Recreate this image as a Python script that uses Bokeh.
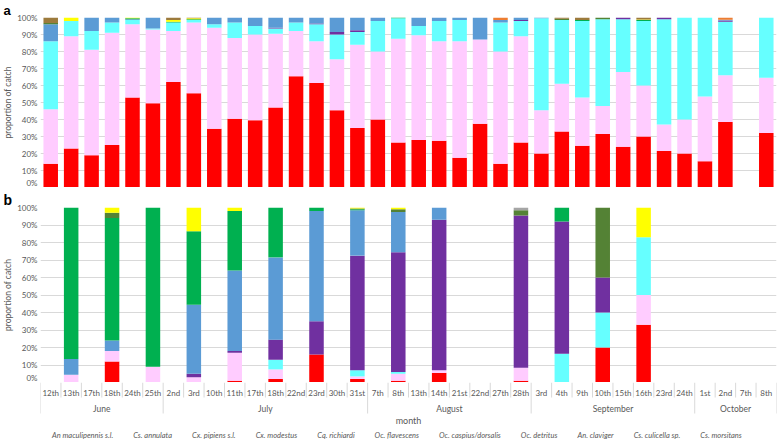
import numpy as np
from bokeh.plotting import figure
from bokeh.models import (ColumnDataSource, Range1d, PrintfTickFormatter, FixedTicker,
                          Legend, LegendItem)
from bokeh.layouts import column
from bokeh.embed import file_html
from bokeh.resources import INLINE
from bokeh.core.properties import value

# ---------------- data ----------------
months = ["June", "July", "August", "September", "October"]
month_counts = [6, 10, 8, 8, 4]
days = ["12th", "13th", "17th", "18th", "24th", "25th",
        "2nd", "3rd", "10th", "11th", "17th", "18th", "22nd", "23rd", "30th", "31st",
        "7th", "8th", "13th", "14th", "21st", "22nd", "27th", "28th",
        "3rd", "4th", "9th", "10th", "15th", "16th", "23rd", "24th",
        "1st", "2nd", "7th", "8th"]

species = ["An maculipennis s.l.", "Cs. annulata", "Cx. pipiens s.l.", "Cx. modestus",
           "Cq. richiardi", "Oc. flavescens", "Oc. caspius/dorsalis", "Oc. detritus",
           "An. claviger", "Cs. culicella sp.", "Cs. morsitans"]
colors = ["#FF0000", "#FFCCFF", "#66FFFF", "#7030A0", "#5B9BD5", "#00B050",
          "#548235", "#FFFF00", "#A5A5A5", "#9C7A3C", "#ED7D31"]

# panel a (percent of catch)
a_macu = [14, 23, 19, 25, 53, 49.5,
          62, 55.5, 34.5, 40.5, 39.5, 47, 65.5, 61.5, 45.5, 35,
          40, 26.5, 28, 27.5, 17.5, 37.5, 14, 26.5,
          20, 33, 24.5, 31.5, 24, 30, 21.5, 20,
          15.5, 38.5, 0, 32]
a_annu = [32, 66, 62, 66, 43, 43.5,
          30, 41.5, 59.5, 47.5, 50.5, 43.5, 26.5, 24.5, 30, 49,
          40, 61, 61.5, 58.5, 68.5, 49.5, 66, 62.5,
          25.5, 28, 28.5, 16.5, 44, 30, 15.5, 20,
          38, 27.5, 0, 32.5]
a_pipi = [40, 9, 11, 6, 2.5, 0.5,
          5, 1.5, 2, 9, 5, 3, 5, 10, 14.5, 7.5,
          18, 12, 5.5, 12, 12.5, 0, 17, 9,
          54, 37.5, 45, 51, 31, 38, 62, 60,
          46.5, 31.5, 0, 35.5]
a_mode = [0, 0, 0, 0, 0, 0,
          0, 0, 0, 0, 0, 0.5, 0, 0.5, 1.5, 1,
          0, 0, 0, 0, 0, 0, 0, 0.5,
          0, 0, 0, 0, 1, 0, 1, 0,
          0, 0.8, 0, 0]
a_rich = [10, 0, 8, 3, 0.5, 6.5,
          0, 0, 4, 3, 5, 6, 3, 3.5, 8.5, 7.5,
          2, 0, 5, 2, 1.5, 13, 1.5, 1.5,
          0.5, 0, 0, 0, 0, 0, 0, 0,
          0, 0.4, 0, 0]
a_flav = [0, 0, 0, 0, 0.5, 0,
          0.5, 0.5, 0, 0, 0, 0, 0, 0, 0, 0,
          0, 0.5, 0, 0, 0, 0, 0, 0,
          0, 0, 0.5, 0, 0, 0.5, 0, 0,
          0, 0, 0, 0]
a_casp = [0.7, 0, 0, 0, 0, 0,
          0, 0, 0, 0, 0, 0, 0, 0, 0, 0,
          0, 0, 0, 0, 0, 0, 0, 0,
          0, 0.7, 0, 1, 0, 0, 0, 0,
          0, 0, 0, 0]
a_detr = [0, 2, 0, 0, 0.5, 0,
          1, 0.5, 0, 0, 0, 0, 0, 0, 0, 0,
          0, 0, 0, 0, 0, 0, 0, 0,
          0, 0, 0, 0, 0, 0.3, 0, 0,
          0, 0, 0, 0]
a_clav = [0, 0, 0, 0, 0, 0,
          0, 0, 0, 0, 0, 0, 0, 0, 0, 0,
          0, 0, 0, 0, 0, 0, 0, 0,
          0, 0, 0, 0, 0, 0, 0, 0,
          0, 0, 0, 0]
a_culi = [3.3, 0, 0, 0, 0, 0,
          1.5, 0.5, 0, 0, 0, 0, 0, 0, 0, 0,
          0, 0, 0, 0, 0, 0, 0, 0,
          0, 0.8, 1.5, 0, 0, 1.2, 0, 0,
          0, 0, 0, 0]
a_mors = [0, 0, 0, 0, 0, 0,
          0, 0, 0, 0, 0, 0, 0, 0, 0, 0,
          0, 0, 0, 0, 0, 0, 1.5, 0,
          0, 0, 0, 0, 0, 0, 0, 0,
          0, 1.3, 0, 0]

# panel b (percent of catch)
b_macu = [0, 0, 0, 12, 0, 0,
          0, 0, 0, 1, 0, 2, 0, 16, 0, 2,
          0, 1, 0, 5.5, 0, 0, 0, 1,
          0, 0, 0, 20, 0, 33, 0, 0,
          0, 0, 0, 0]
b_annu = [0, 4.5, 0, 6, 0, 9,
          0, 3, 0, 16, 0, 5.5, 0, 0, 0, 1.5,
          0, 4, 0, 1.5, 0, 0, 0, 7.5,
          0, 0, 0, 0, 0, 17, 0, 0,
          0, 0, 0, 0]
b_pipi = [0, 0, 0, 0, 0, 0,
          0, 0, 0, 0, 0, 5.5, 0, 0, 0, 3.5,
          0, 1, 0, 0, 0, 0, 0, 0,
          0, 16.5, 0, 20, 0, 33, 0, 0,
          0, 0, 0, 0]
b_mode = [0, 0, 0, 0, 0, 0,
          0, 2, 0, 1, 0, 11.5, 0, 19, 0, 65.5,
          0, 68.5, 0, 86, 0, 0, 0, 87,
          0, 75.5, 0, 20, 0, 0, 0, 0,
          0, 0, 0, 0]
b_rich = [0, 9, 0, 6, 0, 0,
          0, 39.5, 0, 46, 0, 47, 0, 63, 0, 26,
          0, 23, 0, 7, 0, 0, 0, 0,
          0, 0, 0, 0, 0, 0, 0, 0,
          0, 0, 0, 0]
b_flav = [0, 86.5, 0, 70, 0, 91,
          0, 42, 0, 34, 0, 28.5, 0, 2, 0, 0.5,
          0, 0, 0, 0, 0, 0, 0, 0,
          0, 8, 0, 0, 0, 0, 0, 0,
          0, 0, 0, 0]
b_casp = [0, 0, 0, 3, 0, 0,
          0, 0, 0, 0, 0, 0, 0, 0, 0, 0.5,
          0, 1.5, 0, 0, 0, 0, 0, 3,
          0, 0, 0, 40, 0, 0, 0, 0,
          0, 0, 0, 0]
b_detr = [0, 0, 0, 3, 0, 0,
          0, 13.5, 0, 2, 0, 0, 0, 0, 0, 0.5,
          0, 1, 0, 0, 0, 0, 0, 0,
          0, 0, 0, 0, 0, 17, 0, 0,
          0, 0, 0, 0]
b_clav = [0, 0, 0, 0, 0, 0,
          0, 0, 0, 0, 0, 0, 0, 0, 0, 0,
          0, 0, 0, 0, 0, 0, 0, 1.5,
          0, 0, 0, 0, 0, 0, 0, 0,
          0, 0, 0, 0]
b_culi = [0] * 36
b_mors = [0] * 36

panel_a = [a_macu, a_annu, a_pipi, a_mode, a_rich, a_flav, a_casp, a_detr, a_clav, a_culi, a_mors]
panel_b = [b_macu, b_annu, b_pipi, b_mode, b_rich, b_flav, b_casp, b_detr, b_clav, b_culi, b_mors]

# ---------------- styling ----------------
FONT = "Lato"
GRAY = "#595959"
GRID = "#D9D9D9"
W = 778
L = 39
R = 2
N = len(days)
xc = np.arange(N) + 0.5
FH = 175  # frame height of each panel


def panel(vals, top, tag, tag_size):
    data = {"x": xc}
    keys = []
    for i, v in enumerate(vals):
        data[f"s{i}"] = v
        keys.append(f"s{i}")
    src = ColumnDataSource(data)
    p = figure(width=W, height=FH + top, x_range=Range1d(0, N), y_range=Range1d(0, 100),
               output_backend="svg", toolbar_location=None, x_axis_type=None, title=tag,
               min_border_left=L, min_border_right=R, min_border_top=top,
               min_border_bottom=0)
    p.vbar_stack(keys, x="x", width=0.71, fill_color=colors, line_color=None, source=src)
    t = p.title
    t.text_font = "Liberation Sans"
    t.text_font_style = "bold"
    t.text_font_size = tag_size
    t.text_color = "black"
    t.text_line_height = 0.75
    t.standoff = 0
    t.align = "left"
    t.offset = -(L - 2)
    ax = p.yaxis[0]
    ax.ticker = FixedTicker(ticks=list(range(0, 101, 10)))
    ax.formatter = PrintfTickFormatter(format="%d%%")
    ax.axis_label = "proportion of catch"
    ax.axis_label_text_font = FONT
    ax.axis_label_text_font_size = "8.5px"
    ax.axis_label_text_font_style = "normal"
    ax.axis_label_text_color = GRAY
    ax.axis_label_standoff = 1
    ax.axis_line_color = None
    ax.major_tick_line_color = None
    ax.minor_tick_line_color = None
    ax.major_tick_out = 0
    ax.major_tick_in = 0
    ax.major_label_text_font = FONT
    ax.major_label_text_font_size = "8px"
    ax.major_label_text_color = GRAY
    ax.major_label_standoff = 3
    p.ygrid.grid_line_color = GRID
    p.xgrid.visible = False
    p.outline_line_color = None
    return p


p1 = panel(panel_a, 12, "a", "13px")
p2 = panel(panel_b, 20, "b", "14px")

# ---------------- category axis table + legend ----------------
H3 = 60
q = figure(width=W, height=H3, x_range=p2.x_range, y_range=Range1d(-H3, 0),
           output_backend="svg", toolbar_location=None, x_axis_type=None, y_axis_type=None,
           min_border_left=L, min_border_right=R, min_border_top=0, min_border_bottom=0)
q.grid.visible = False
q.outline_line_color = None

month_bounds = np.cumsum([0] + month_counts)
bx = np.arange(N + 1)
by1 = np.where(np.isin(bx, month_bounds), -31, -15)
q.segment(x0=bx, y0=np.zeros(N + 1), x1=bx, y1=by1, line_color=GRID, line_width=1)

q.text(x=xc, y=np.full(N, -10), text=days, text_font=value(FONT), text_font_size="8px",
       text_color=GRAY, text_align="center", text_baseline="middle")
mc = (month_bounds[:-1] + month_bounds[1:]) / 2
q.text(x=mc, y=np.full(len(months), -26), text=months, text_font=value(FONT),
       text_font_size="8.5px", text_color=GRAY, text_align="center", text_baseline="middle")
q.text(x=[N / 2], y=[-37.5], text=["month"], text_font=value(FONT), text_font_size="9px",
       text_color=GRAY, text_align="center", text_baseline="middle")

items = []
for name, c in zip(species, colors):
    r = q.vbar(x=[], top=[], width=0.5, fill_color=c, line_color=None)
    items.append(LegendItem(label=name, renderers=[r]))
leg = Legend(items=items, orientation="horizontal", location=(4, 2),
             glyph_width=5, glyph_height=5, label_height=9, label_width=0,
             label_standoff=3, spacing=12, padding=1, margin=0,
             label_text_font=FONT, label_text_font_size="7.5px",
             label_text_font_style="italic", label_text_color=GRAY,
             border_line_color=None, background_fill_alpha=0)
q.add_layout(leg)

layout = column(p1, p2, q, spacing=0)
open("out.html", "w").write(file_html(layout, INLINE))
